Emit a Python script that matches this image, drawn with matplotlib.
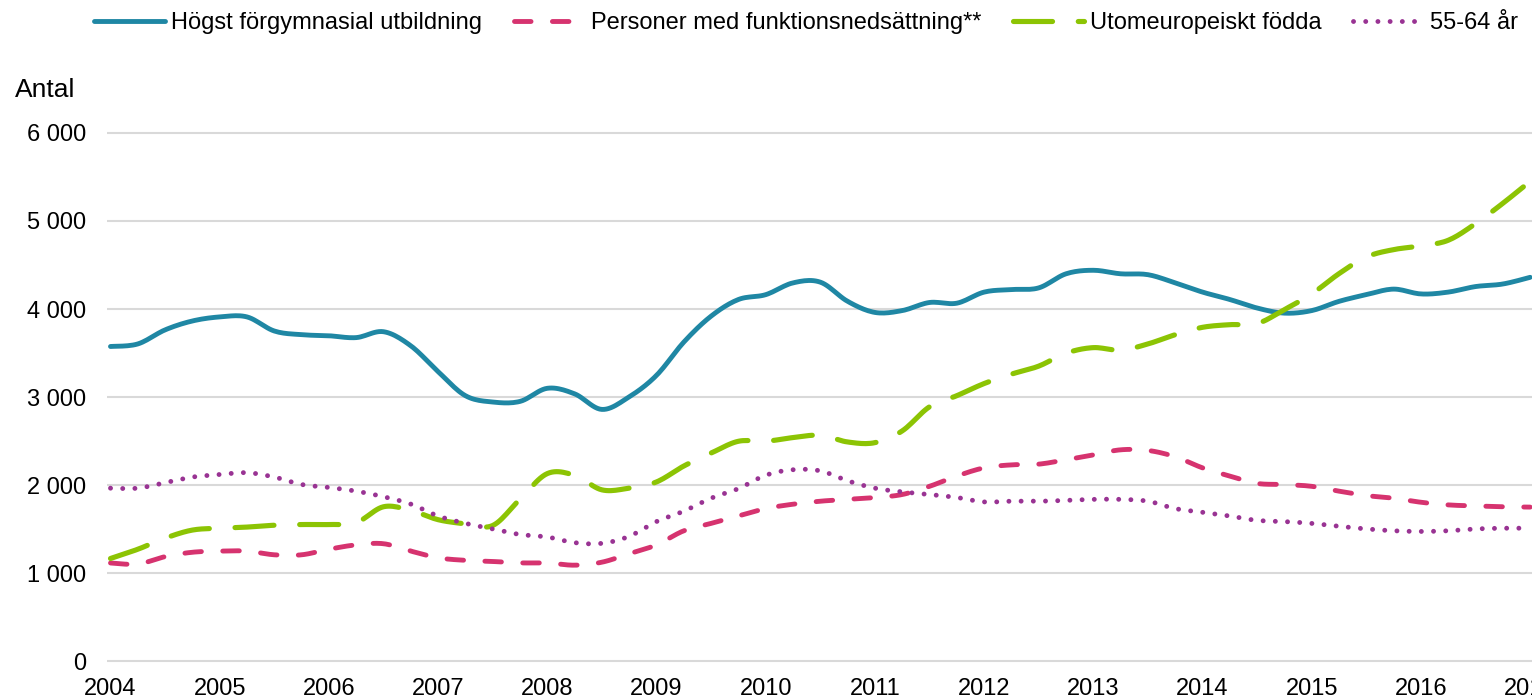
import numpy as np
import matplotlib
matplotlib.use('Agg')
import matplotlib.pyplot as plt

plt.rcParams['font.family'] = ['Liberation Sans', 'DejaVu Sans']

# kvartalsdata 2004 Q1 - 2017 Q1
years = list(range(2004, 2018))
quarters = [2004 + i / 4 for i in range(53)]

hogst_forgymnasial = [3574, 3603, 3763, 3864, 3910, 3910, 3750, 3708,
                      3696, 3675, 3742, 3582, 3288, 3015, 2943, 2950,
                      3099, 3036, 2859, 3002, 3246, 3624, 3919, 4108,
                      4163, 4297, 4305, 4087, 3961, 3982, 4074, 4066,
                      4192, 4221, 4240, 4400, 4440, 4400, 4390, 4297,
                      4192, 4108, 4011, 3953, 3982, 4087, 4163, 4226,
                      4171, 4192, 4255, 4284, 4360]
funktionsnedsattning = [1114, 1102, 1186, 1236, 1249, 1249, 1207, 1207,
                        1270, 1320, 1333, 1249, 1173, 1144, 1131, 1115,
                        1114, 1089, 1123, 1219, 1320, 1480, 1564, 1648,
                        1732, 1782, 1816, 1837, 1858, 1892, 1985, 2102,
                        2195, 2229, 2237, 2287, 2342, 2400, 2393, 2321,
                        2195, 2102, 2018, 2006, 1985, 1930, 1880, 1850,
                        1804, 1774, 1762, 1753, 1749]
utomeuropeiskt = [1165, 1270, 1396, 1488, 1509, 1522, 1543, 1551,
                  1551, 1572, 1753, 1711, 1606, 1560, 1540, 1840,
                  2130, 2110, 1945, 1965, 2035, 2216, 2363, 2497,
                  2497, 2539, 2565, 2489, 2481, 2615, 2889, 3015,
                  3153, 3260, 3351, 3498, 3561, 3532, 3603, 3708,
                  3792, 3822, 3834, 3994, 4171, 4402, 4591, 4675,
                  4717, 4781, 4970, 5201, 5450]
aldersgrupp_55_64 = [1964, 1964, 2027, 2090, 2119, 2140, 2090, 2006,
                     1972, 1930, 1867, 1783, 1648, 1564, 1501, 1438,
                     1409, 1345, 1337, 1417, 1585, 1703, 1850, 1959,
                     2111, 2174, 2161, 2048, 1964, 1922, 1892, 1858,
                     1808, 1816, 1816, 1825, 1837, 1837, 1816, 1732,
                     1690, 1648, 1598, 1585, 1564, 1531, 1501, 1480,
                     1472, 1480, 1501, 1509, 1509]


def smooth(x, y, n=12):
    # Catmull-Rom, ungefär som Excels utjämnade linjer
    x = np.asarray(x, float)
    y = np.asarray(y, float)
    px = np.concatenate([[x[0]], x, [x[-1]]])
    py = np.concatenate([[y[0]], y, [y[-1]]])
    xs, ys = [], []
    t = np.linspace(0, 1, n, endpoint=False)
    for i in range(1, len(px) - 2):
        for p, out in ((px, xs), (py, ys)):
            p0, p1, p2, p3 = p[i - 1], p[i], p[i + 1], p[i + 2]
            out.extend(0.5 * (2 * p1 + (-p0 + p2) * t
                              + (2 * p0 - 5 * p1 + 4 * p2 - p3) * t ** 2
                              + (-p0 + 3 * p1 - 3 * p2 + p3) * t ** 3))
    xs.append(x[-1])
    ys.append(y[-1])
    return np.array(xs), np.array(ys)


fig = plt.figure(figsize=(15.32, 7), dpi=100)
ax = fig.add_axes([107 / 1532, 0.0494, 1 - 107 / 1532, 0.7669])

blue = '#1f87a4'
pink = '#d6336f'
green = '#8cc404'
purple = '#993393'

x, y = smooth(quarters, hogst_forgymnasial)
l1, = ax.plot(x, y, color=blue, lw=3.5, solid_capstyle='round',
              label='Högst förgymnasial utbildning')
x, y = smooth(quarters, funktionsnedsattning)
l2, = ax.plot(x, y, color=pink, lw=3.5, dashes=(3.4, 4.4), dash_capstyle='round',
              label='Personer med funktionsnedsättning**')
x, y = smooth(quarters, utomeuropeiskt)
l3, = ax.plot(x, y, color=green, lw=3.7, dashes=(7.6, 5.0), dash_capstyle='round',
              label='Utomeuropeiskt födda')
x, y = smooth(quarters, aldersgrupp_55_64)
l4, = ax.plot(x, y, color=purple, lw=3.5, dashes=(0.01, 2.5), dash_capstyle='round',
              label='55-64 år')

ax.set_xlim(2003.968, 2017.017)
ax.set_ylim(-50, 6050)
ax.set_xticks(years)
ax.set_xticklabels([str(a) for a in years])
ax.set_yticks(range(0, 6001, 1000))
ax.set_yticklabels(['{:,}'.format(v).replace(',', ' ') for v in range(0, 6001, 1000)])
ax.tick_params(length=0, labelsize=17, colors='black')
ax.tick_params(axis='x', pad=9)
ax.tick_params(axis='y', pad=15)
ax.grid(axis='y', color='#d9d9d9', lw=1.5)
ax.set_axisbelow(True)
for s in ax.spines.values():
    s.set_visible(False)

fig.text(15 / 1532, 1 - 90 / 700, 'Antal', fontsize=19, va='center', ha='left')

fig.legend(handles=[l1, l2, l3, l4], loc='center', ncol=4,
           bbox_to_anchor=(806 / 1532, 1 - 23 / 700), frameon=False,
           fontsize=17, handlelength=3.0, handletextpad=0.25, columnspacing=1.35)

plt.savefig('out.png', dpi=100)
